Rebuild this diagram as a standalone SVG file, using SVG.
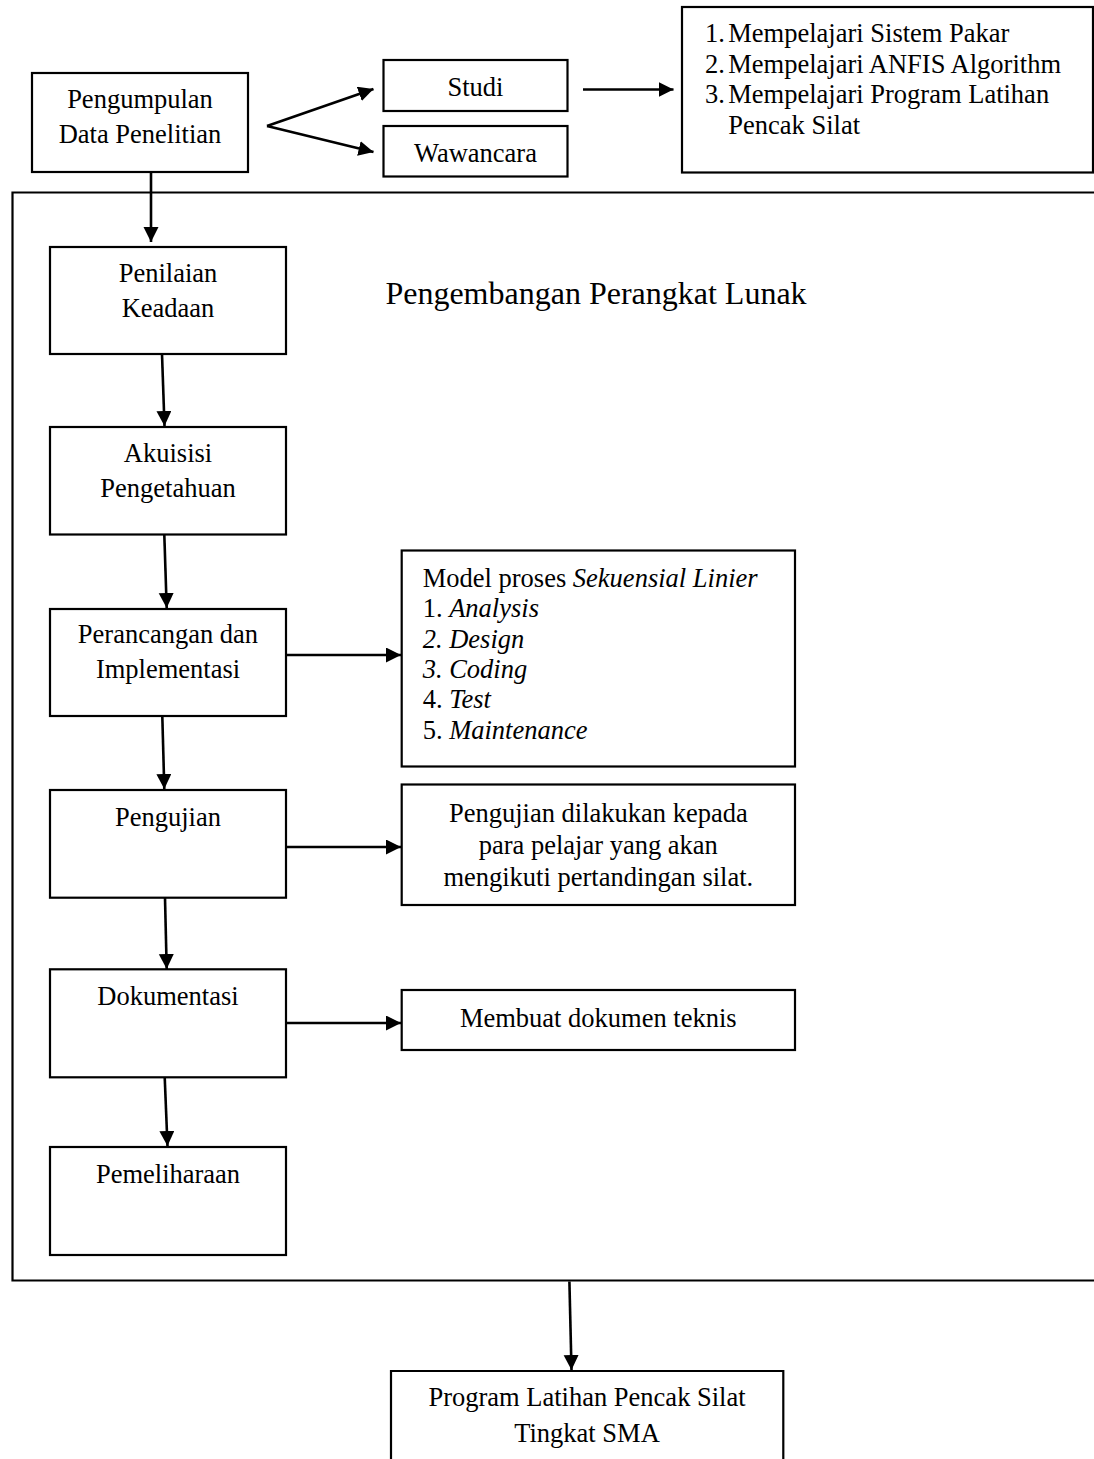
<svg xmlns="http://www.w3.org/2000/svg" width="1094" height="1459" viewBox="0 0 1094 1459">
<style>
.box{fill:#fff;stroke:#000;stroke-width:2.2}
.frame{fill:none;stroke:#000;stroke-width:2.2}
.t{font-family:"Liberation Serif","Times New Roman",serif;font-size:26.5px;fill:#000}
.c{text-anchor:middle}
.i{font-style:italic}
.big{font-family:"Liberation Serif","Times New Roman",serif;font-size:32px;fill:#000}
.con{fill:none;stroke:#000;stroke-width:2.6;marker-end:url(#ah)}
</style>
<defs>
<marker id="ah" markerUnits="userSpaceOnUse" markerWidth="16" markerHeight="16" refX="15" refY="7.5" orient="auto">
<path d="M0,0 L15,7.5 L0,15 z" fill="#000"/>
</marker>
</defs>
<rect width="1094" height="1459" fill="#fff"/>

<g id="frame">
<path class="frame" d="M1096,192.5 H12.5 V1280.5 H1096"/>
<text class="big" x="596" y="303.5" text-anchor="middle">Pengembangan Perangkat Lunak</text>
</g>

<g id="pengumpulan">
<rect class="box" x="32" y="73" width="216" height="99"/>
<text class="t c" x="140" y="108.3">Pengumpulan</text>
<text class="t c" x="140" y="143.3">Data Penelitian</text>
</g>

<g id="studi">
<rect class="box" x="383.5" y="60" width="184" height="51"/>
<text class="t c" x="475.5" y="96">Studi</text>
</g>

<g id="wawancara">
<rect class="box" x="383.5" y="126" width="184" height="50.5"/>
<text class="t c" x="475.5" y="161.7">Wawancara</text>
</g>

<g id="mempelajari">
<rect class="box" x="682" y="7" width="411" height="165.5"/>
<text class="t" x="705" y="42">1.</text><text class="t" x="728.3" y="42">Mempelajari Sistem Pakar</text>
<text class="t" x="705" y="72.5">2.</text><text class="t" x="728.3" y="72.5">Mempelajari ANFIS Algorithm</text>
<text class="t" x="705" y="103">3.</text><text class="t" x="728.3" y="103">Mempelajari Program Latihan</text>
<text class="t" x="728.3" y="133.5">Pencak Silat</text>
</g>

<g id="penilaian">
<rect class="box" x="50" y="247" width="236" height="107"/>
<text class="t c" x="168" y="281.7">Penilaian</text>
<text class="t c" x="168" y="316.7">Keadaan</text>
</g>

<g id="akuisisi">
<rect class="box" x="50" y="427" width="236" height="107.5"/>
<text class="t c" x="168" y="461.7">Akuisisi</text>
<text class="t c" x="168" y="497.3">Pengetahuan</text>
</g>

<g id="perancangan">
<rect class="box" x="50" y="609" width="236" height="107"/>
<text class="t c" x="168" y="643.3">Perancangan dan</text>
<text class="t c" x="168" y="678.3">Implementasi</text>
</g>

<g id="model">
<rect class="box" x="401.7" y="550.5" width="393.3" height="216"/>
<text class="t" x="422.7" y="587">Model proses <tspan class="i">Sekuensial Linier</tspan></text>
<text class="t" x="422.7" y="617.3">1. <tspan class="i">Analysis</tspan></text>
<text class="t i" x="422.7" y="647.6">2. Design</text>
<text class="t i" x="422.7" y="677.9">3. Coding</text>
<text class="t" x="422.7" y="708.2">4. <tspan class="i">Test</tspan></text>
<text class="t" x="422.7" y="738.5">5. <tspan class="i">Maintenance</tspan></text>
</g>

<g id="pengujian">
<rect class="box" x="50" y="790" width="236" height="107.7"/>
<text class="t c" x="168" y="826">Pengujian</text>
</g>

<g id="pengujian-detail">
<rect class="box" x="401.7" y="784.5" width="393.3" height="120.5"/>
<text class="t c" x="598.3" y="821.5">Pengujian dilakukan kepada</text>
<text class="t c" x="598.3" y="853.5">para pelajar yang akan</text>
<text class="t c" x="598.3" y="885.5">mengikuti pertandingan silat.</text>
</g>

<g id="dokumentasi">
<rect class="box" x="50" y="969.3" width="236" height="108"/>
<text class="t c" x="168" y="1005">Dokumentasi</text>
</g>

<g id="membuat">
<rect class="box" x="401.7" y="990" width="393.3" height="60"/>
<text class="t c" x="598.3" y="1027">Membuat dokumen teknis</text>
</g>

<g id="pemeliharaan">
<rect class="box" x="50" y="1147" width="236" height="108"/>
<text class="t c" x="168" y="1183">Pemeliharaan</text>
</g>

<g id="program">
<path class="frame" d="M391,1470 V1371 H783.3 V1470"/>
<text class="t c" x="587" y="1406">Program Latihan Pencak Silat</text>
<text class="t c" x="587" y="1441.5">Tingkat SMA</text>
</g>

<g id="connectors">
<path class="con" d="M151,172 V242"/>
<path class="con" d="M267,126 L373.5,89"/>
<path class="con" d="M267,126 L373.5,152"/>
<path class="con" d="M583,89.5 H673.5"/>
<path class="con" d="M162,354 L164.5,426"/>
<path class="con" d="M164.3,534.5 L166.7,608"/>
<path class="con" d="M286,655 H401"/>
<path class="con" d="M162.3,716 L164.3,789"/>
<path class="con" d="M286,847 H401"/>
<path class="con" d="M165,898 L166.7,969"/>
<path class="con" d="M286,1023 H401"/>
<path class="con" d="M164.7,1077 L167.5,1146"/>
<path class="con" d="M569.4,1281.5 L571.5,1370"/>
</g>
</svg>
